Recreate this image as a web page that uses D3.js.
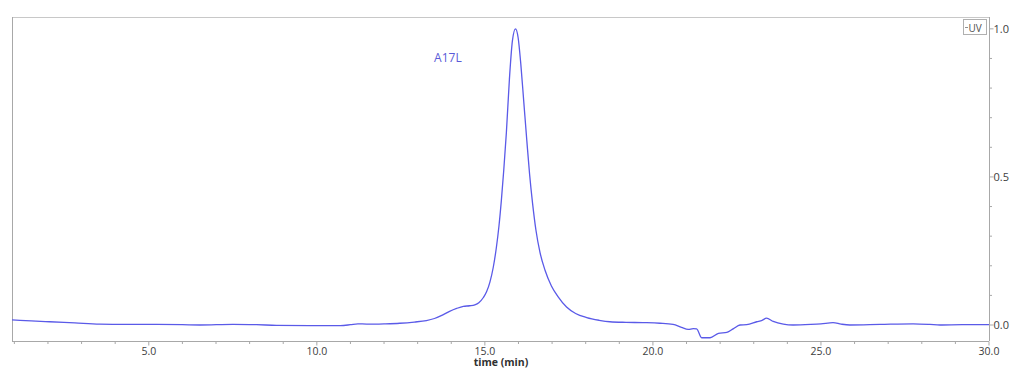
<!DOCTYPE html>
<html><head><meta charset="utf-8">
<script src="https://cdn.jsdelivr.net/npm/d3@7"></script>
<style>body{margin:0;background:#fff;}svg{display:block;font-family:"Open Sans","Noto Sans",sans-serif;}</style>
</head><body><svg id="c" width="1014" height="369"></svg>
<script>
const times = [0.93,1.5,2.05,2.8,3.54,4.3,5.03,6.0,6.52,7.5,8.2,8.8,9.8,10.7,11.0,11.22,11.48,12.0,12.47,12.9,13.26,13.5,13.75,13.95,14.16,14.36,14.55,14.7,14.82,14.95,15.05,15.15,15.25,15.34,15.42,15.49,15.56,15.64,15.73,15.82,15.91,15.99,16.07,16.16,16.25,16.33,16.42,16.52,16.64,16.79,16.98,17.17,17.43,17.7,18.03,18.4,18.72,19.2,19.7,20.21,20.6,20.85,21.05,21.2,21.3,21.45,21.7,21.95,22.2,22.4,22.59,22.79,23.09,23.25,23.38,23.58,23.88,24.17,24.7,25.0,25.36,25.6,25.86,26.76,27.74,28.24,28.54,29.2,30.0];
const uv = [0.017,0.014,0.011,0.007,0.003,0.002,0.002,0.001,0.0,0.002,0.001,-0.001,-0.002,-0.002,0.001,0.004,0.003,0.004,0.006,0.010,0.015,0.022,0.034,0.046,0.056,0.063,0.065,0.068,0.075,0.092,0.112,0.145,0.195,0.26,0.335,0.42,0.52,0.65,0.83,0.96,1.0,0.97,0.88,0.75,0.62,0.51,0.41,0.32,0.245,0.185,0.132,0.097,0.061,0.039,0.025,0.016,0.011,0.009,0.008,0.006,0.002,-0.008,-0.015,-0.012,-0.013,-0.043,-0.043,-0.028,-0.025,-0.012,0.0,0.001,0.011,0.016,0.023,0.012,0.003,0.0,0.002,0.004,0.008,0.003,0.0,0.002,0.004,0.002,0.0,0.001,0.001];
const xTicks = [5,10,15,20,25,30];
const yTicks = [0,0.5,1.0];
const seriesName = "UV";
const peakLabel = {text:"A17L", t:13.49, v:0.888};

const svg = d3.select("#c");
const L=12, R=989, T=17, B=341;
const x = d3.scaleLinear().domain([0.93,30]).range([L,R]);
const y = d3.scaleLinear().domain([-0.054,1.04]).range([B,T]);
const grey="#a8a8a8", txt="#404040", lineCol="#5a5ae8";

// frame lines
svg.append("line").attr("x1",L).attr("x2",R).attr("y1",T+0.5).attr("y2",T+0.5).attr("stroke","#c8c8c8");
svg.append("line").attr("x1",L+0.5).attr("x2",L+0.5).attr("y1",T).attr("y2",B).attr("stroke",grey);

// bottom axis
const xMinor = d3.range(1,31,1);
const gx = svg.append("g").attr("transform",`translate(0,${B+0.5})`);
gx.append("line").attr("x1",L).attr("x2",R).attr("stroke",grey);
gx.selectAll("line.mi").data(xMinor).join("line").attr("class","mi")
  .attr("x1",d=>x(d)).attr("x2",d=>x(d)).attr("y1",0).attr("y2",d=>xTicks.includes(d)?4:2.5).attr("stroke",grey);
gx.selectAll("text").data(xTicks).join("text").attr("x",d=>x(d)).attr("y",13)
  .attr("text-anchor","middle").attr("font-size",10.5).attr("fill",txt).text(d=>d.toFixed(1));
svg.append("text").attr("x",501).attr("y",365.5).attr("text-anchor","middle").attr("font-size",10.5)
  .attr("font-weight","bold").attr("fill","#303030").text("time (min)");

// right axis
const gy = svg.append("g").attr("transform",`translate(${R+0.5},0)`);
gy.append("line").attr("y1",T).attr("y2",B).attr("stroke",grey);
const yMinor = d3.range(0,11).map(i=>i/10);
gy.selectAll("line.mi").data(yMinor).join("line").attr("class","mi")
  .attr("y1",d=>y(d)).attr("y2",d=>y(d)).attr("x1",0).attr("x2",d=>(Math.abs(d*2-Math.round(d*2))<1e-6)?4:2.5).attr("stroke",grey);
gy.selectAll("text").data(yTicks).join("text").attr("x",4).attr("y",d=>y(d)+4)
  .attr("font-size",11).attr("fill",txt).text(d=>d.toFixed(1));

// line
const pts = times.map((t,i)=>[t,uv[i]]);
svg.append("path").datum(pts).attr("fill","none").attr("stroke",lineCol).attr("stroke-width",1.3)
  .attr("d",d3.line().x(d=>x(d[0])).y(d=>y(d[1])).curve(d3.curveMonotoneX));

// label
svg.append("text").attr("x",x(peakLabel.t)).attr("y",y(peakLabel.v)).attr("font-size",12)
  .attr("fill","#5a5ad8").text(peakLabel.text);

// legend
const lg = svg.append("g");
lg.append("rect").attr("x",963.5).attr("y",19.5).attr("width",23).attr("height",15).attr("fill","#fff").attr("stroke","#b0b0b0");
lg.append("line").attr("x1",965).attr("x2",968).attr("y1",27.5).attr("y2",27.5).attr("stroke","#909090");
lg.append("text").attr("x",968.5).attr("y",31.5).attr("font-size",10).attr("fill","#505050").text(seriesName);
</script></body></html>
